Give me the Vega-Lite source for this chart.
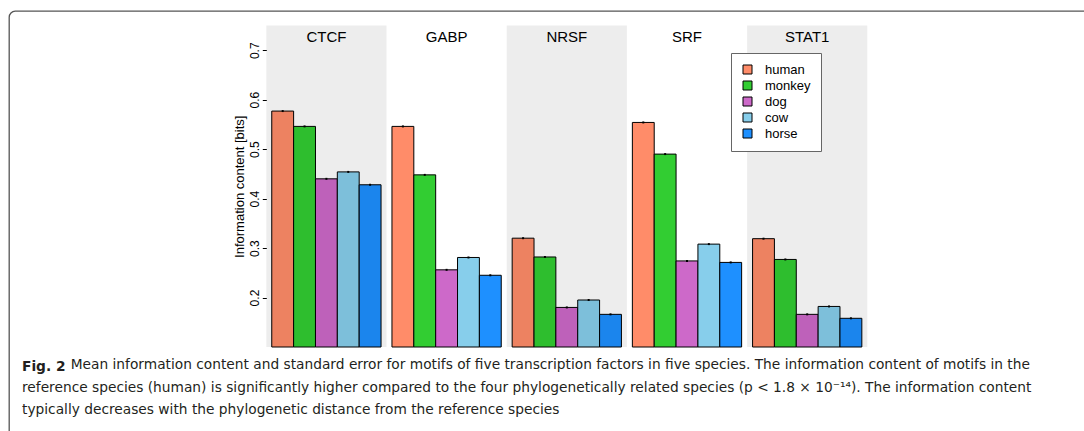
{
  "$schema": "https://vega.github.io/schema/vega-lite/v6.json",
  "width": 1095,
  "height": 440,
  "autosize": {"type": "none"},
  "padding": {"left": 9, "top": 11, "right": -20, "bottom": -20},
  "background": "white",
  "config": {
    "view": {"stroke": "#555555", "strokeWidth": 1.3, "cornerRadius": 6},
    "font": "Liberation Sans"
  },
  "title": {
    "text": "Fig. 2",
    "subtitle": [
      "reference species (human) is significantly higher compared to the four phylogenetically related species (p < 1.8 \u00d7 10\u207b\u00b9\u2074). The information content",
      "typically decreases with the phylogenetic distance from the reference species"
    ],
    "orient": "bottom",
    "anchor": "start",
    "frame": "group",
    "dx": 13,
    "offset": -91.5,
    "font": "DejaVu Sans",
    "fontSize": 13.75,
    "fontWeight": "bold",
    "color": "#231f20",
    "subtitleFont": "DejaVu Sans",
    "subtitleFontSize": 13.75,
    "subtitleColor": "#231f20",
    "subtitleLineHeight": 21.5,
    "subtitlePadding": 8
  },
  "datasets": {
    "ic": [
      {"tf": "CTCF", "species": "human", "value": 0.577, "lo": 0.575, "hi": 0.579},
      {"tf": "CTCF", "species": "monkey", "value": 0.546, "lo": 0.544, "hi": 0.548},
      {"tf": "CTCF", "species": "dog", "value": 0.440, "lo": 0.438, "hi": 0.442},
      {"tf": "CTCF", "species": "cow", "value": 0.454, "lo": 0.452, "hi": 0.456},
      {"tf": "CTCF", "species": "horse", "value": 0.428, "lo": 0.426, "hi": 0.430},
      {"tf": "GABP", "species": "human", "value": 0.546, "lo": 0.544, "hi": 0.548},
      {"tf": "GABP", "species": "monkey", "value": 0.448, "lo": 0.446, "hi": 0.450},
      {"tf": "GABP", "species": "dog", "value": 0.256, "lo": 0.254, "hi": 0.258},
      {"tf": "GABP", "species": "cow", "value": 0.281, "lo": 0.279, "hi": 0.283},
      {"tf": "GABP", "species": "horse", "value": 0.245, "lo": 0.243, "hi": 0.247},
      {"tf": "NRSF", "species": "human", "value": 0.320, "lo": 0.318, "hi": 0.322},
      {"tf": "NRSF", "species": "monkey", "value": 0.282, "lo": 0.280, "hi": 0.284},
      {"tf": "NRSF", "species": "dog", "value": 0.180, "lo": 0.178, "hi": 0.182},
      {"tf": "NRSF", "species": "cow", "value": 0.195, "lo": 0.193, "hi": 0.197},
      {"tf": "NRSF", "species": "horse", "value": 0.166, "lo": 0.164, "hi": 0.168},
      {"tf": "SRF", "species": "human", "value": 0.554, "lo": 0.552, "hi": 0.556},
      {"tf": "SRF", "species": "monkey", "value": 0.490, "lo": 0.488, "hi": 0.492},
      {"tf": "SRF", "species": "dog", "value": 0.274, "lo": 0.272, "hi": 0.276},
      {"tf": "SRF", "species": "cow", "value": 0.308, "lo": 0.306, "hi": 0.310},
      {"tf": "SRF", "species": "horse", "value": 0.271, "lo": 0.269, "hi": 0.273},
      {"tf": "STAT1", "species": "human", "value": 0.319, "lo": 0.317, "hi": 0.321},
      {"tf": "STAT1", "species": "monkey", "value": 0.277, "lo": 0.275, "hi": 0.279},
      {"tf": "STAT1", "species": "dog", "value": 0.166, "lo": 0.164, "hi": 0.168},
      {"tf": "STAT1", "species": "cow", "value": 0.182, "lo": 0.180, "hi": 0.184},
      {"tf": "STAT1", "species": "horse", "value": 0.158, "lo": 0.156, "hi": 0.160}
    ],
    "panels": [
      {"tf": "CTCF", "shaded": true},
      {"tf": "GABP", "shaded": false},
      {"tf": "NRSF", "shaded": true},
      {"tf": "SRF", "shaded": false},
      {"tf": "STAT1", "shaded": true}
    ],
    "caption": [
      {"caption": "Mean information content and standard error for motifs of five transcription factors in five species. The information content of motifs in the"}
    ]
  },
  "layer": [
    {
      "data": {"name": "ic"},
      "mark": {"type": "bar", "stroke": "black", "strokeWidth": 1, "opacity": 1},
      "encoding": {
        "x": {"field": "tf", "type": "nominal", "axis": null,
          "scale": {"domain": ["CTCF", "GABP", "NRSF", "SRF", "STAT1"], "range": [257.3, 858.3], "paddingInner": 0, "paddingOuter": 0}},
        "xOffset": {"field": "species", "type": "nominal",
          "scale": {"domain": ["human", "monkey", "dog", "cow", "horse"], "paddingInner": 0, "paddingOuter": 0.25}},
        "y": {"field": "value", "type": "quantitative",
          "scale": {"domain": [0.1, 0.75], "range": [336, 14.5], "zero": false, "nice": false},
          "axis": {"title": "Information content [bits]", "orient": "left", "offset": -257.3,
            "values": [0.2, 0.3, 0.4, 0.5, 0.6, 0.7], "format": ".1f", "domain": false, "grid": false,
            "tickSize": 4, "tickColor": "black", "tickWidth": 1,
            "labelFont": "Liberation Sans", "labelFontSize": 12, "labelColor": "black",
            "labelAngle": 270, "labelAlign": "center", "labelBaseline": "alphabetic", "labelPadding": 4,
            "titleFont": "Liberation Sans", "titleFontSize": 13, "titleFontWeight": "normal", "titleColor": "black", "titlePadding": 2}},
        "y2": {"datum": 0.1},
        "color": {"field": "species", "type": "nominal",
          "scale": {"domain": ["human", "monkey", "dog", "cow", "horse"], "range": ["#FF8C69", "#32CD32", "#CD69C9", "#87CEEB", "#1E90FF"]},
          "legend": {"title": null, "orient": "none", "legendX": 722, "legendY": 42,
            "fillColor": "white", "strokeColor": "#666666", "padding": 10,
            "symbolType": "square", "symbolSize": 81, "symbolStrokeColor": "black", "symbolStrokeWidth": 1, "symbolOpacity": 1,
            "labelFont": "Liberation Sans", "labelFontSize": 13, "labelColor": "black", "labelOffset": 11, "rowPadding": 2}}
      }
    },
    {
      "data": {"name": "ic"},
      "mark": {"type": "rule", "color": "black", "strokeWidth": 2},
      "encoding": {
        "x": {"field": "tf", "type": "nominal", "axis": null},
        "xOffset": {"field": "species", "type": "nominal"},
        "y": {"field": "lo", "type": "quantitative", "title": "Information content [bits]"},
        "y2": {"field": "hi"}
      }
    },
    {
      "data": {"name": "panels"},
      "transform": [{"filter": "datum.shaded"}],
      "mark": {"type": "bar", "color": "black", "opacity": 0.07},
      "encoding": {
        "x": {"field": "tf", "type": "nominal", "axis": null},
        "y": {"datum": 0.75},
        "y2": {"datum": 0.1}
      }
    },
    {
      "data": {"name": "panels"},
      "mark": {"type": "text", "font": "Liberation Sans", "fontSize": 15, "color": "black", "baseline": "middle", "align": "center"},
      "encoding": {
        "x": {"field": "tf", "type": "nominal", "axis": null},
        "y": {"datum": 0.727},
        "text": {"field": "tf"}
      }
    },
    {
      "mark": {"type": "rect", "fill": null, "fillOpacity": 0, "stroke": "black", "strokeWidth": 1.6},
      "encoding": {
        "x": {"datum": "CTCF", "bandPosition": 0},
        "x2": {"datum": "STAT1", "bandPosition": 1},
        "y": {"datum": 0.75},
        "y2": {"datum": 0.1}
      }
    },
    {
      "data": {"name": "caption"},
      "mark": {"type": "text", "font": "DejaVu Sans", "fontSize": 13.75, "color": "#231f20", "align": "left", "baseline": "alphabetic", "dx": -255.7},
      "encoding": {
        "x": {"datum": "CTCF"},
        "y": {"datum": 0.056},
        "text": {"field": "caption", "type": "nominal"}
      }
    }
  ]
}
